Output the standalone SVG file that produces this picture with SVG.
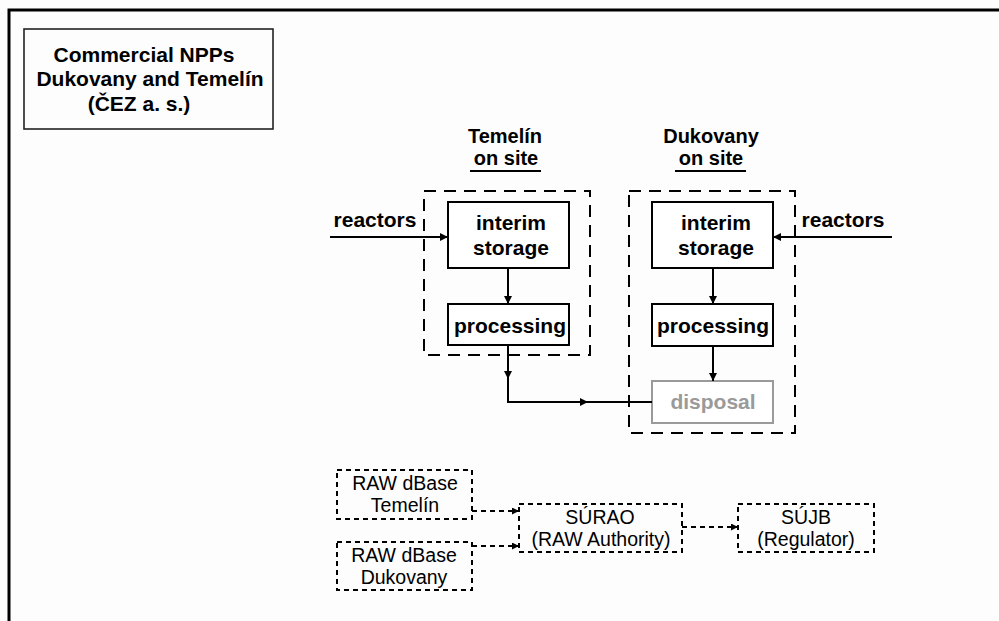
<svg xmlns="http://www.w3.org/2000/svg" width="999" height="621" viewBox="0 0 999 621">
<style>
.bg{fill:#fdfdfd}
.frame{fill:none;stroke:#000;stroke-width:3}
.tbox{fill:none;stroke:#222;stroke-width:1.6}
.box{fill:#fff;stroke:#000;stroke-width:2}
.gbox{fill:#fff;stroke:#9a9a9a;stroke-width:2}
.site{fill:none;stroke:#000;stroke-width:2;stroke-dasharray:12 8}
.db{fill:none;stroke:#000;stroke-width:2;stroke-dasharray:5 4}
.t{font-family:"Liberation Sans",Arial,sans-serif;font-size:21px;font-weight:bold;fill:#000;text-anchor:middle}
.h{font-family:"Liberation Sans",Arial,sans-serif;font-size:20px;font-weight:bold;fill:#000;text-anchor:middle}
.r{font-family:"Liberation Sans",Arial,sans-serif;font-size:19.5px;fill:#000;text-anchor:middle}
.g{fill:#9a9a9a}
.ln{fill:none;stroke:#000;stroke-width:2}
.dl{fill:none;stroke:#000;stroke-width:2;stroke-dasharray:5 4}
.ul{stroke:#000;stroke-width:2}
</style>
<defs>
<marker id="ah" viewBox="0 0 8 8" markerWidth="8" markerHeight="8" refX="8" refY="4" orient="auto" markerUnits="userSpaceOnUse">
<path d="M0,0 L8,4 L0,8 z" fill="#000"/>
</marker>
<marker id="ahs" viewBox="0 0 8 8" markerWidth="7" markerHeight="7" refX="8" refY="4" orient="auto" markerUnits="userSpaceOnUse">
<path d="M0,0 L8,4 L0,8 z" fill="#000"/>
</marker>
</defs>
<rect class="bg" x="0" y="0" width="999" height="621"/>
<path class="frame" d="M9,621 V10 H999"/>

<g id="title">
<rect class="tbox" x="24" y="29" width="249" height="100"/>
<text class="t" x="144" y="62">Commercial NPPs</text>
<text class="t" x="150" y="86">Dukovany and Temelín</text>
<text class="t" x="139" y="111">(ČEZ a. s.)</text>
</g>

<g id="temelin-header">
<text class="h" x="505" y="143">Temelín</text>
<text class="h" x="506" y="165">on site</text>
<line class="ul" x1="470" y1="171" x2="541" y2="171"/>
</g>
<g id="dukovany-header">
<text class="h" x="711" y="143">Dukovany</text>
<text class="h" x="711" y="165">on site</text>
<line class="ul" x1="675" y1="171" x2="746" y2="171"/>
</g>

<g id="temelin-site">
<rect class="site" x="424" y="191" width="166" height="164"/>
</g>
<g id="dukovany-site">
<rect class="site" x="629" y="191" width="166" height="242"/>
</g>

<g id="reactors-left">
<text class="t" x="375" y="227">reactors</text>
</g>
<g id="reactors-right">
<text class="t" x="843" y="227">reactors</text>
</g>

<g id="temelin-interim">
<rect class="box" x="448" y="202" width="121" height="66"/>
<text class="t" x="511" y="230">interim</text>
<text class="t" x="511" y="255">storage</text>
</g>
<g id="temelin-processing">
<rect class="box" x="448" y="304" width="121" height="41"/>
<text class="t" x="510" y="333">processing</text>
</g>

<g id="dukovany-interim">
<rect class="box" x="652" y="202" width="121" height="66"/>
<text class="t" x="716" y="230">interim</text>
<text class="t" x="716" y="255">storage</text>
</g>
<g id="dukovany-processing">
<rect class="box" x="652" y="304" width="121" height="42"/>
<text class="t" x="713" y="333">processing</text>
</g>
<g id="disposal">
<rect class="gbox" x="652" y="381" width="121" height="42"/>
<text class="t g" x="713" y="409">disposal</text>
</g>

<g id="raw-temelin">
<rect class="db" x="337" y="470" width="135" height="49"/>
<text class="r" x="405" y="490">RAW dBase</text>
<text class="r" x="405" y="512">Temelín</text>
</g>
<g id="raw-dukovany">
<rect class="db" x="337" y="542" width="135" height="48"/>
<text class="r" x="404" y="562">RAW dBase</text>
<text class="r" x="404" y="584">Dukovany</text>
</g>
<g id="surao">
<rect class="db" x="519" y="504" width="163" height="48"/>
<text class="r" x="600" y="524">SÚRAO</text>
<text class="r" x="601" y="546">(RAW Authority)</text>
</g>
<g id="sujb">
<rect class="db" x="738" y="504" width="136" height="48"/>
<text class="r" x="806" y="524">SÚJB</text>
<text class="r" x="806" y="546">(Regulator)</text>
</g>

<g id="connectors">
<path class="ln" d="M330,237 H448" marker-end="url(#ah)"/>
<path class="ln" d="M892,237 H773" marker-end="url(#ah)"/>
<path class="ln" d="M508,268 V304" marker-end="url(#ah)"/>
<path class="ln" d="M713,268 V304" marker-end="url(#ah)"/>
<path class="ln" d="M713,346 V381" marker-end="url(#ah)"/>
<path class="ln" d="M508,345 V379" marker-end="url(#ah)"/>
<path class="ln" d="M508,378 V402 H588" marker-end="url(#ah)"/>
<path class="ln" d="M587,402 H652"/>
<path class="dl" d="M472,511 H519" marker-end="url(#ahs)"/>
<path class="dl" d="M472,546 H519" marker-end="url(#ahs)"/>
<path class="dl" d="M682,527 H738" marker-end="url(#ahs)"/>
</g>
</svg>
